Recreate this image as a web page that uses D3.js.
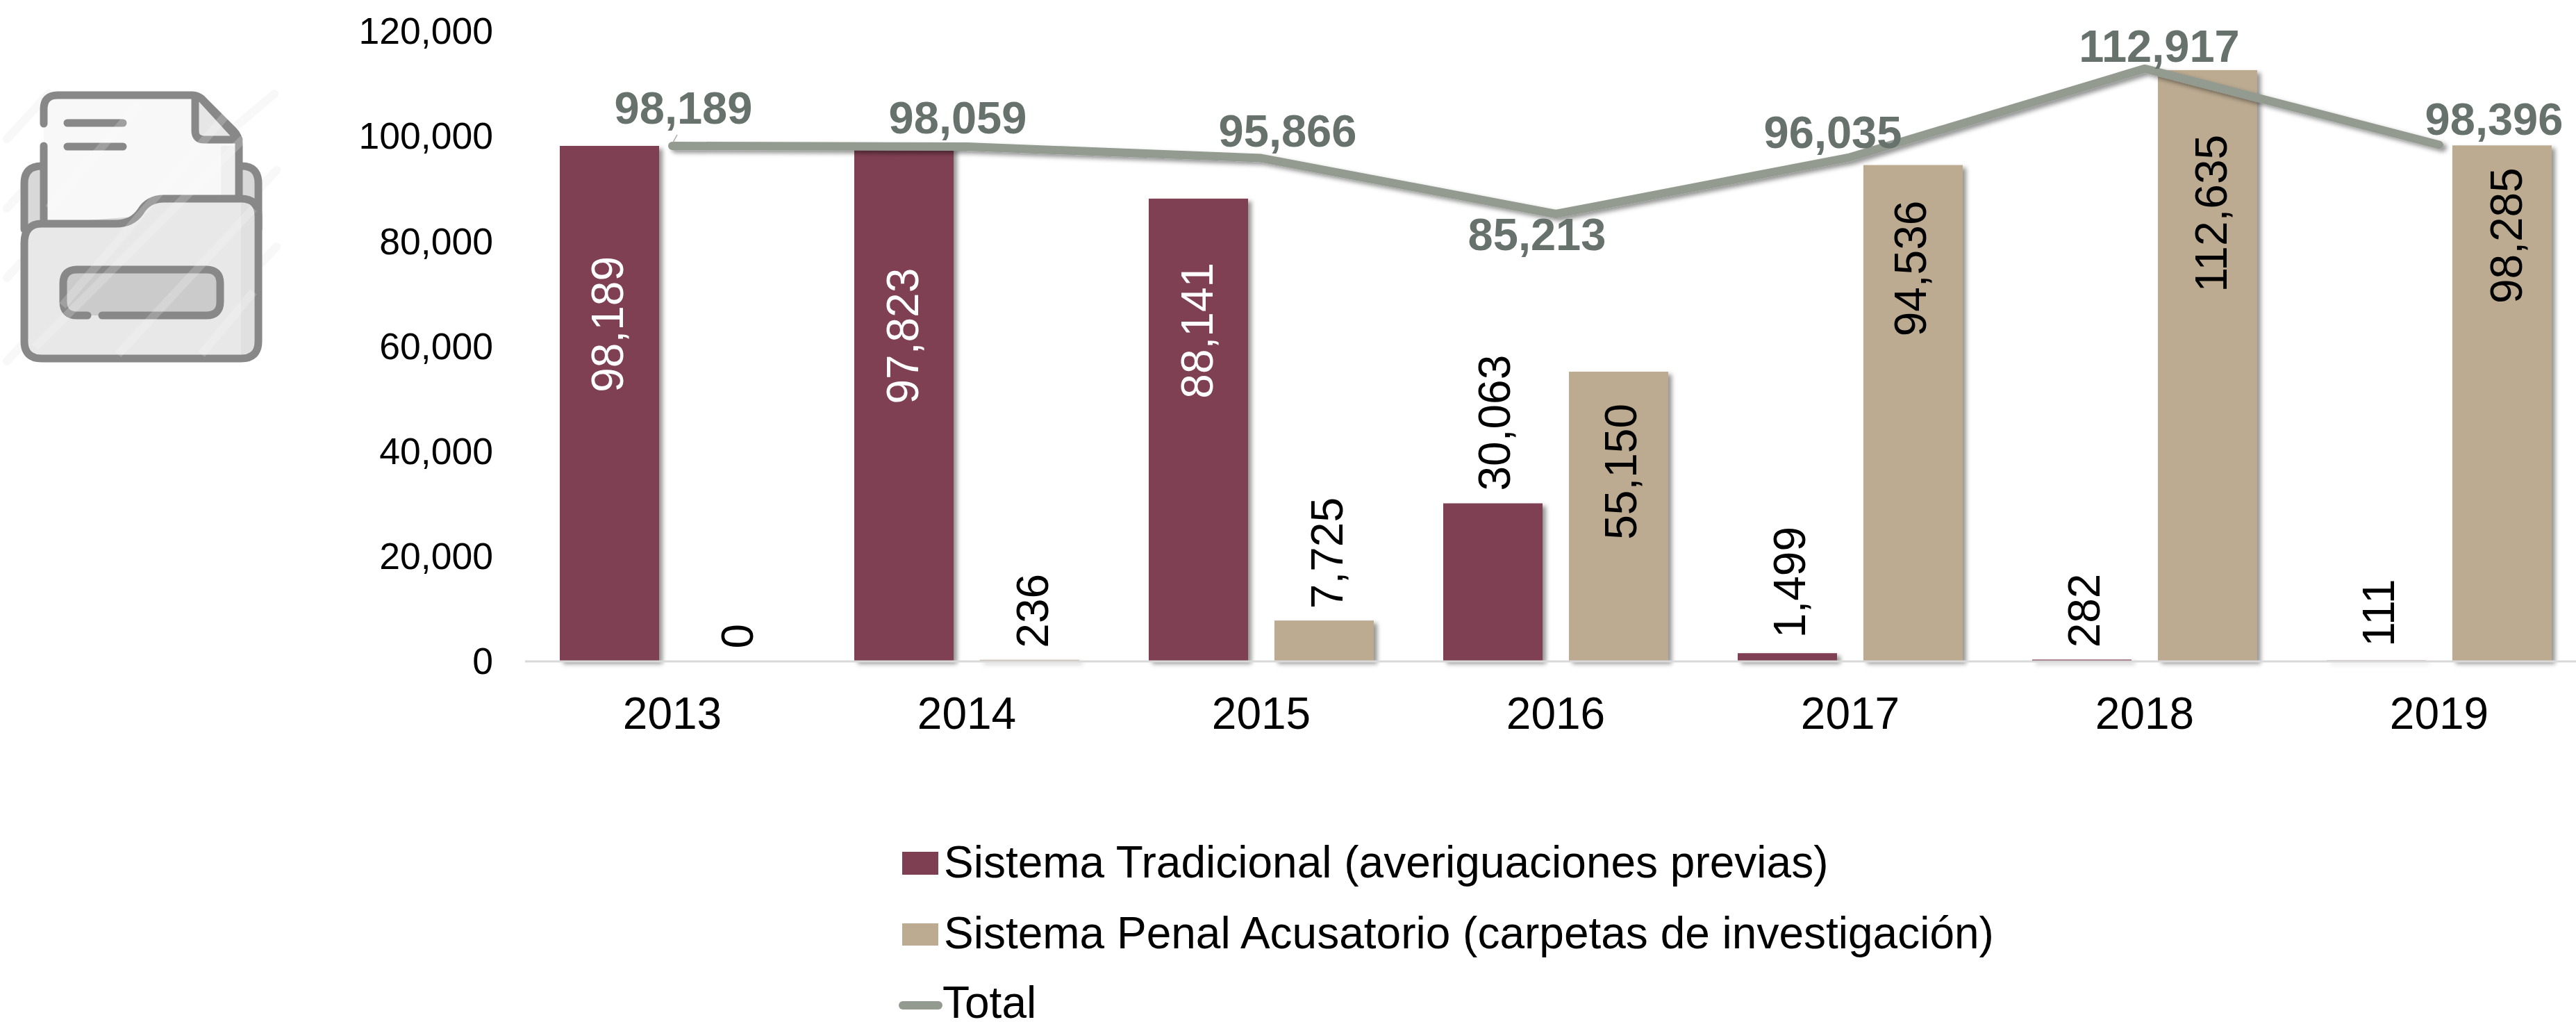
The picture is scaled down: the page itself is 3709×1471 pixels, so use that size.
<!DOCTYPE html>
<html><head><meta charset="utf-8">
<script src="https://cdnjs.cloudflare.com/ajax/libs/d3/7.8.5/d3.min.js"></script>
<style>html,body{margin:0;padding:0;background:#fff}svg{display:block}text{font-family:"Liberation Sans",Arial,sans-serif}</style>
</head><body><script>
const years=["2013","2014","2015","2016","2017","2018","2019"];
const tradicional=[98189,97823,88141,30063,1499,282,111];
const acusatorio=[0,236,7725,55150,94536,112635,98285];
const total=[98189,98059,95866,85213,96035,112917,98396];
const yTicks=[0,20000,40000,60000,80000,100000,120000];
const seriesNames=["Sistema Tradicional (averiguaciones previas)","Sistema Penal Acusatorio (carpetas de investigación)","Total"];
const colors={trad:"#7f3f53",acus:"#bcab91",line:"#939b90",lineText:"#66726b",axis:"#d9d9d9"};
// label placement offsets in px (manual placement in the reference)
const tradLabelDy=[159,173,92,-18,-22,-17,-20];
const acusLabelDy=[-18,-17,-17,46,51,93,32];
const tradLabelDx=[20,21,21,25,26,26,26];
const acusLabelDx=[25,26,26,25,18,27,28];
const totalLabelDx=[16,-13,38,-27,-25,21,79];
const totalLabelDy=[-32,-19,-17,52,-13,-10,-14];

const W=3709,H=1471;
const svg=d3.select("body").append("svg").attr("width",W).attr("height",H);
const defs=svg.append("defs");
const f=defs.append("filter").attr("id","sh").attr("x","-20%").attr("y","-20%").attr("width","140%").attr("height","140%");
f.append("feDropShadow").attr("dx",5).attr("dy",4).attr("stdDeviation",3).attr("flood-color","#000").attr("flood-opacity",0.42);

const x0=d3.scaleBand().domain(years).range([756,756+424*7]);
const x1=d3.scaleBand().domain(["t","a"]).range([50,374]).paddingInner(0.21).paddingOuter(0);
const y=d3.scaleLinear().domain([0,120000]).range([951.5,45.3]);
const fmt=d3.format(",");

// y axis labels
const yAxis=d3.axisLeft(y).tickValues(yTicks).tickFormat(fmt).tickSize(0).tickPadding(0);
const gy=svg.append("g").attr("transform","translate(710,0)").call(yAxis);
gy.select(".domain").remove();
gy.selectAll("text").attr("font-size",53.5).attr("fill","#000").attr("dy","0.33em");

// bars
const barG=svg.append("g");
function bars(vals,key,col){
  barG.append("g").attr("filter","url(#sh)").selectAll("rect").data(vals).join("rect")
    .attr("x",(d,i)=>x0(years[i])+x1(key)).attr("width",x1.bandwidth())
    .attr("y",d=>y(d)).attr("height",d=>y(0)-y(d)).attr("fill",col);
}
bars(tradicional,"t",colors.trad);
bars(acusatorio,"a",colors.acus);

// x axis, over the bars
const xAxis=d3.axisBottom(x0).tickSize(0).tickPadding(0);
const gx=svg.append("g").attr("transform","translate(0,952)").call(xAxis);
gx.select(".domain").attr("stroke",colors.axis).attr("stroke-width",3).attr("d","M756,0H3709");
gx.selectAll("text").attr("font-size",64).attr("fill","#000").attr("dy",0).attr("y",96.5);

// line
const cx=i=>x0(years[i])+x0.bandwidth()/2;
const line=d3.line().x((d,i)=>cx(i)).y(d=>y(d));
svg.append("path").attr("d",line(total)).attr("fill","none").attr("stroke",colors.line)
  .attr("stroke-width",12).attr("stroke-linecap","round").attr("stroke-linejoin","bevel").attr("filter","url(#sh)");
// leader line of first total label
svg.append("line").attr("x1",cx(0)+1).attr("y1",y(total[0])-5).attr("x2",cx(0)+7).attr("y2",y(total[0])-16).attr("stroke","#a6a6a6").attr("stroke-width",1.5);

// rotated value labels
function vlabels(vals,key,dys,dxs){
  svg.append("g").selectAll("text").data(vals).join("text")
   .attr("transform",(d,i)=>{
     const bx=x0(years[i])+x1(key)+x1.bandwidth()/2;
     return `translate(${bx+dxs[i]},${y(d)+dys[i]}) rotate(-90)`;
   })
   .attr("text-anchor",(d,i)=>dys[i]>0?"end":"start")
   .attr("font-size",64).attr("fill",(d,i)=>(key==="t"&&dys[i]>0)?"#fff":"#000")
   .text(d=>fmt(d));
}
vlabels(tradicional,"t",tradLabelDy,tradLabelDx);
vlabels(acusatorio,"a",acusLabelDy,acusLabelDx);

// total labels
svg.append("g").selectAll("text").data(total).join("text")
  .attr("x",(d,i)=>cx(i)+totalLabelDx[i]).attr("y",(d,i)=>y(d)+totalLabelDy[i])
  .attr("text-anchor","middle").attr("font-size",65).attr("font-weight","bold").attr("fill",colors.lineText)
  .text(d=>fmt(d));

// legend
const lg=svg.append("g");
const legY=[1263,1365,1465];
lg.append("rect").attr("x",1299).attr("y",1226).attr("width",52).attr("height",33).attr("fill",colors.trad);
lg.append("rect").attr("x",1299).attr("y",1329).attr("width",52).attr("height",32).attr("fill",colors.acus);
lg.append("line").attr("x1",1300).attr("x2",1351).attr("y1",1447).attr("y2",1447).attr("stroke",colors.line).attr("stroke-width",12).attr("stroke-linecap","round");
lg.selectAll("text").data(seriesNames).join("text").attr("x",(d,i)=>i==2?1357:1359).attr("y",(d,i)=>legY[i]).attr("font-size",64).attr("fill","#000").text(d=>d);

// icon
const ic=svg.append("g").attr("stroke","#888").attr("stroke-width",11).attr("stroke-linecap","round").attr("stroke-linejoin","round");
const st=ic.append("g").attr("stroke","#f8f8f8").attr("stroke-width",12);
[[10,200,70,135],[10,300,60,245],[10,400,30,378],[10,520,30,498],[330,190,395,135],[375,270,398,245],[375,380,398,355]].forEach(s=>st.append("line").attr("x1",s[0]).attr("y1",s[1]).attr("x2",s[2]).attr("y2",s[3]));
ic.append("path").attr("d","M35,330V264Q35,239 60,239H348Q372,239 372,264V330Z").attr("fill","#d8d8d8");
ic.append("path").attr("d","M63,322V157Q63,137 83,137H277Q285,137 291,143L336,188Q344,196 344,206V300Z").attr("fill","#f8f8f8").attr("stroke","none");
ic.append("path").attr("d","M318,210H344V300H318Z").attr("fill","#efefef").attr("stroke","none");
ic.append("path").attr("d","M63,322V210M63,178V157Q63,137 83,137H277Q285,137 291,143L336,188Q344,196 344,206V290").attr("fill","none");
ic.append("path").attr("d","M281,140V188Q281,201 294,201H344L290,142Z").attr("fill","#e6e6e6");
ic.append("path").attr("d","M97,177H177M97,211H177").attr("fill","none");
ic.append("path").attr("d","M35,350Q35,322 60,322H167Q190,322 202,305Q213,286 236,286H347Q372,286 372,311V491Q372,516 347,516H60Q35,516 35,491Z").attr("fill","#e8e8e8");
ic.append("path").attr("d","M347,292Q366,292 366,311V491Q366,510 347,510Z").attr("fill","#e0e0e0").attr("stroke","none");
ic.append("path").attr("d","M126,454H111Q91,454 91,434V408Q91,388 111,388H297Q317,388 317,408V434Q317,454 297,454H147").attr("fill","#cbcbcb");
const st2=ic.append("g").attr("stroke","#fff").attr("stroke-opacity",.2).attr("stroke-width",12).attr("stroke-linecap","butt");
[[70,300,200,150],[90,440,330,160],[50,500,350,200],[170,510,365,300],[290,510,365,420]].forEach(s=>st2.append("line").attr("x1",s[0]).attr("y1",s[1]).attr("x2",s[2]).attr("y2",s[3]));
</script></body></html>
